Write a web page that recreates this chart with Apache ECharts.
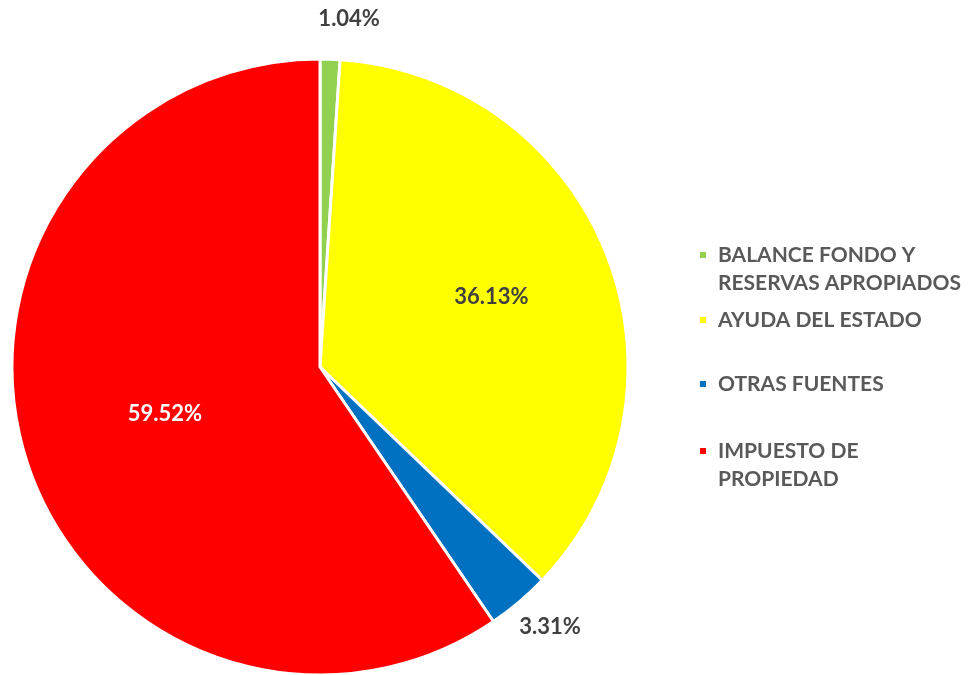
<!DOCTYPE html>
<html><head><meta charset="utf-8">
<script src="https://cdn.jsdelivr.net/npm/echarts@6/dist/echarts.min.js"></script>
<style>html,body{margin:0;padding:0;background:#fff}#c{width:968px;height:675px}</style>
</head><body><div id="c"></div>
<script>
const categories = ['BALANCE FONDO Y RESERVAS APROPIADOS', 'AYUDA DEL ESTADO', 'OTRAS FUENTES', 'IMPUESTO DE PROPIEDAD'];
const values = [1.04, 36.13, 3.31, 59.52];
const legendLabels = ['\nBALANCE FONDO Y\nRESERVAS APROPIADOS', 'AYUDA DEL ESTADO', 'OTRAS FUENTES', '\nIMPUESTO DE\nPROPIEDAD'];

const colors = ['#92D050', '#FFFF00', '#0070C0', '#FF0000'];
const labelStyles = [
  {position: 'outside', color: '#404040', offset: [-13, 0]},
  {position: 'inside', color: '#404040', offset: [25, -13]},
  {position: 'outside', color: '#404040', offset: [-21, 0]},
  {position: 'inside', color: '#FFFFFF', offset: [-5, 1]}
];
const lineLens = [40, 33, 33, 10];
const legendTops = [213, 306, 370, 409];
const fontFamily = 'Lato, "Open Sans", sans-serif';

const chart = echarts.init(document.getElementById('c'), null, {renderer: 'canvas'});
const data = categories.map((n, i) => ({
  name: n, value: values[i],
  itemStyle: {color: colors[i]},
  label: Object.assign({show: true}, labelStyles[i]),
  labelLine: {show: false, length: lineLens[i], length2: 0}
}));

chart.setOption({
  animation: false,
  legend: categories.map((n, i) => ({
    data: [n],
    left: 698, top: legendTops[i], padding: 0,
    icon: 'rect', itemWidth: 8, itemHeight: 8, itemGap: 0,
    formatter: () => legendLabels[i],
    textStyle: {
      color: '#595959', fontSize: 21, fontWeight: 'bold', fontFamily: fontFamily,
      lineHeight: 28, padding: [0, 0, 0, 6]
    }
  })),
  series: [{
    type: 'pie',
    center: [320, 367],
    radius: 308,
    startAngle: 90,
    clockwise: true,
    avoidLabelOverlap: false,
    itemStyle: {borderColor: '#FFFFFF', borderWidth: 3},
    label: {
      formatter: p => p.value.toFixed(2) + '%',
      fontSize: 22, fontWeight: 'bold', fontFamily: fontFamily,
      distanceToLabelLine: 0
    },
    data: data
  }]
});
</script></body></html>
